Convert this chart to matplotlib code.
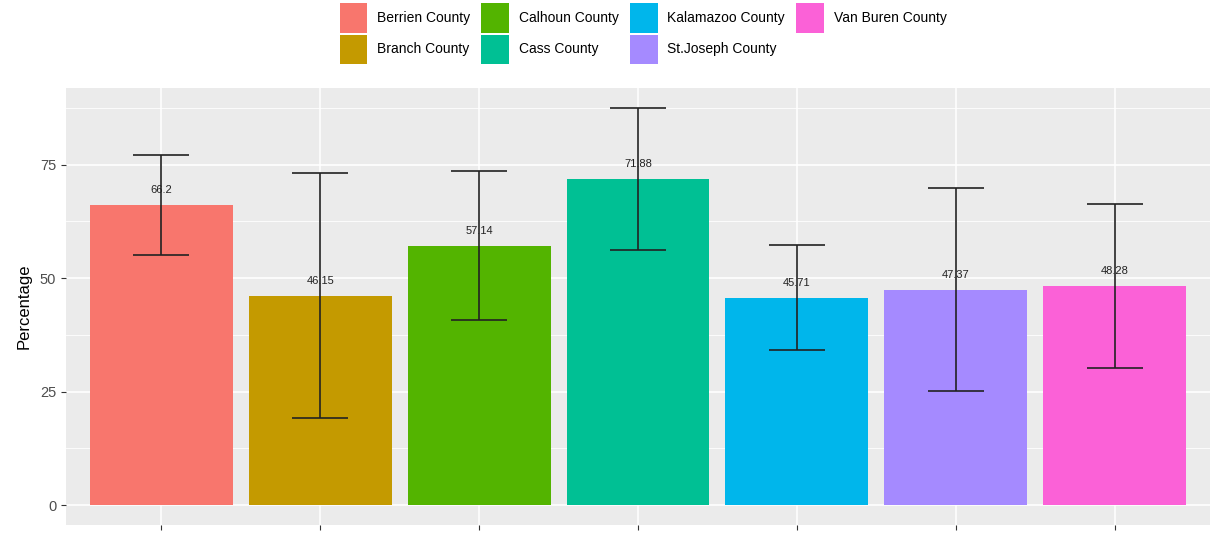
import matplotlib
matplotlib.use("Agg")
import matplotlib.pyplot as plt
from matplotlib.patches import Patch

counties = ["Berrien County", "Branch County", "Calhoun County", "Cass County",
            "Kalamazoo County", "St.Joseph County", "Van Buren County"]
values = [66.2, 46.15, 57.14, 71.88, 45.71, 47.37, 48.28]
lower = [55.2, 19.1, 40.7, 56.3, 34.1, 25.1, 30.1]
upper = [77.2, 73.2, 73.7, 87.5, 57.4, 69.9, 66.4]
labels = ["66.2", "46.15", "57.14", "71.88", "45.71", "47.37", "48.28"]
colors = ["#F8766D", "#C49A00", "#53B400", "#00C094", "#00B6EB", "#A58AFF", "#FB61D7"]
yticks = [0, 25, 50, 75]

plt.rcParams['font.family'] = ['Liberation Sans', 'DejaVu Sans']

fig = plt.figure(figsize=(12.19, 5.37), dpi=100)
ax = fig.add_axes([66/1219, 12/537, (1210-66)/1219, (525-88)/537])
ax.set_facecolor("#EBEBEB")
for s in ax.spines.values():
    s.set_visible(False)

x = list(range(1, len(counties) + 1))
ax.set_xlim(0.4, len(counties) + 0.6)
ax.set_ylim(-4.4, 91.9)

# grid
for yv in [12.5, 37.5, 62.5, 87.5]:
    ax.axhline(yv, color="white", lw=0.6, zorder=0)
for yv in yticks:
    ax.axhline(yv, color="white", lw=1.2, zorder=0)
for xv in x:
    ax.axvline(xv, color="white", lw=1.1, zorder=0)

ax.bar(x, values, width=0.9, color=colors, zorder=2)
yerr = [[v - l for v, l in zip(values, lower)], [u - v for v, u in zip(values, upper)]]
ax.errorbar(x, values, yerr=yerr, fmt='none', ecolor="#222222", elinewidth=1.2,
            capsize=20, capthick=1.2, zorder=3)
for xi, v, t in zip(x, values, labels):
    ax.annotate(t, (xi, v), xytext=(0, 7), textcoords="offset points",
                ha="center", va="bottom", fontsize=8, color="#222222", zorder=4)

ax.set_xticks(x)
ax.set_xticklabels([""] * len(x))
ax.set_yticks(yticks)
ax.set_yticklabels([str(v) for v in yticks])
ax.tick_params(axis="both", colors="#333333", length=3.5, width=0.8, labelsize=10.5,
               labelcolor="#4D4D4D")
ax.set_ylabel("Percentage", fontsize=12, color="black", labelpad=6)

handles = [Patch(facecolor=c, edgecolor="none") for c in colors]
fig.legend(handles, counties, loc="upper center", bbox_to_anchor=(643/1219, 1.0),
           ncol=4, frameon=False, fontsize=10, handlelength=2.0, handleheight=2.85,
           handletextpad=0.7, columnspacing=0.8, labelspacing=0.15,
           borderaxespad=0.1, borderpad=0.15)

fig.savefig("out.png", dpi=100)
